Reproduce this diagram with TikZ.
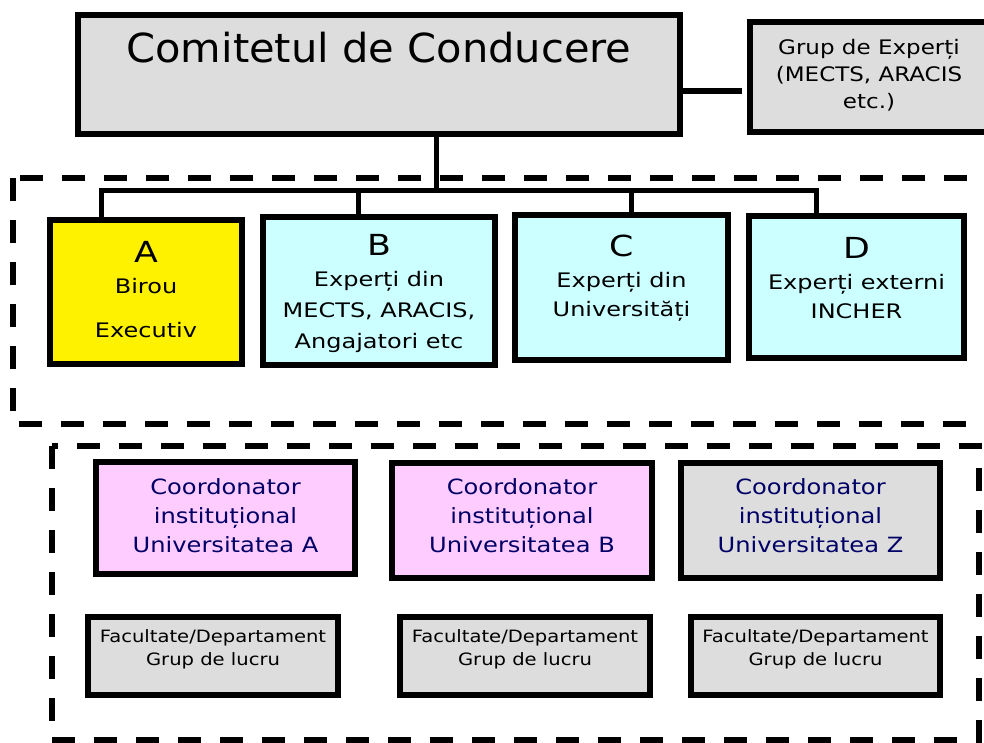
\documentclass[tikz,border=0pt]{standalone}
\usepackage{fontspec}
\setmainfont{DejaVu Sans}
\newfontfamily\titlefont{DejaVu Sans}[FakeStretch=1.04]
\newfontfamily\widefont{DejaVu Sans}[FakeStretch=1.15]
\newfontfamily\widerfont{DejaVu Sans}[FakeStretch=1.2]
\usetikzlibrary{positioning}
\definecolor{boxgray}{HTML}{DDDDDD}
\definecolor{expcyan}{HTML}{CCFFFF}
\definecolor{unipink}{HTML}{FFCCFF}
\definecolor{uninavy}{HTML}{000066}
\newcommand{\fsz}[2]{\fontsize{#1}{#2}\selectfont}

\begin{document}
\begin{tikzpicture}[x=1pt,y=-1pt,
  box/.style={draw=black, line width=5.5pt, inner sep=0pt, outer sep=0pt, anchor=north west, align=center},
  txt/.style={inner sep=0pt, align=center},
  unitxt/.style={txt, text=uninavy, font=\widefont\fsz{21}{29}},
  factxt/.style={txt, font=\widefont\fsz{17}{23}},
  exptxt/.style={txt, font=\widerfont\fsz{20}{29}},
  link/.style={line width=5pt, line join=miter},
  group/.style={line width=5.5pt, dash pattern=on 23pt off 19pt}]
\useasboundingbox (0,0) rectangle (984,742);
\clip (0,0) rectangle (984,742);

\draw[group] (13,178) rectangle (1000,424);
\draw[group] (52,446) rectangle (979,740);

\node[box, fill=boxgray, minimum width=602, minimum height=119] (cc) at (78,15) {};
\node[txt, font=\titlefont\fsz{40}{44}] (cctext) at ([yshift=27pt]cc.center) {Comitetul de Conducere};
\node[box, fill=boxgray, minimum width=238, minimum height=110] (gx) at (750,22) {};
\node[txt, font=\widefont\fsz{20}{27}] (gxtext) at ([yshift=2pt]gx.center)
  {Grup de Experți\\(MECTS, ARACIS\\etc.)};

\node[box, fill=yellow, minimum width=192, minimum height=144] (a) at (50,220) {};
\node[exptxt, font=\widerfont\fsz{20}{28}] (atext) at ([yshift=2pt]a.center)
  {{\fsz{29}{32}A}\\[3pt]Birou\\[16pt]Executiv};
\node[box, fill=expcyan, minimum width=232, minimum height=148] (b) at (263,217) {};
\node[exptxt, font=\widerfont\fsz{20}{31}] (btext) at ([yshift=-3pt]b.center)
  {{\fsz{29}{32}B}\\[0pt]Experți din\\MECTS, ARACIS,\\Angajatori etc};
\node[box, fill=expcyan, minimum width=213, minimum height=145] (c) at (515,215) {};
\node[exptxt] (ctext) at ([yshift=9pt]c.center)
  {{\fsz{29}{32}C}\\[2pt]Experți din\\Universități};
\node[box, fill=expcyan, minimum width=215, minimum height=142] (d) at (749,216) {};
\node[exptxt] (dtext) at ([yshift=9pt]d.center)
  {{\fsz{29}{32}D}\\[2pt]Experți externi\\INCHER};

\node[box, fill=unipink, minimum width=259, minimum height=112] (ua) at (96,462) {};
\node[unitxt] (uatext) at ([yshift=2pt]ua.center) {Coordonator\\instituțional\\Universitatea A};
\node[box, fill=unipink, minimum width=260, minimum height=115] (ub) at (392,463) {};
\node[unitxt] (ubtext) at ([yshift=4.5pt]ub.center) {Coordonator\\instituțional\\Universitatea B};
\node[box, fill=boxgray, minimum width=259, minimum height=115] (uz) at (681,463) {};
\node[unitxt] (uztext) at ([yshift=4.5pt]uz.center) {Coordonator\\instituțional\\Universitatea Z};

\node[box, fill=boxgray, minimum width=250, minimum height=78] (fa) at (88,617) {};
\node[factxt] (fatext) at ([yshift=7pt]fa.center) {Facultate/Departament\\Grup de lucru};
\node[box, fill=boxgray, minimum width=250, minimum height=78] (fb) at (400,617) {};
\node[factxt] (fbtext) at ([yshift=7pt]fb.center) {Facultate/Departament\\Grup de lucru};
\node[box, fill=boxgray, minimum width=249, minimum height=78] (fz) at (691,617) {};
\node[factxt] (fztext) at ([yshift=7pt]fz.center) {Facultate/Departament\\Grup de lucru};

\coordinate (hub) at (436,190);
\coordinate (ja) at (101,190);
\coordinate (jb) at (358,190);
\coordinate (jc) at (631,190);
\coordinate (jd) at (816,190);
\draw[link, line width=6pt, shorten <=3pt, shorten >=8pt] ([yshift=-16.5pt]cc.east) -- ([yshift=-16.5pt]cc.east -| gx.west);
\draw[link] (cc.south -| hub) -- (hub);
\draw[link] (ja |- a.north) -- (ja) -- (jd) -- (jd |- d.north);
\draw[link] (jb) -- (jb |- b.north);
\draw[link] (jc) -- (jc |- c.north);
\end{tikzpicture}
\end{document}
